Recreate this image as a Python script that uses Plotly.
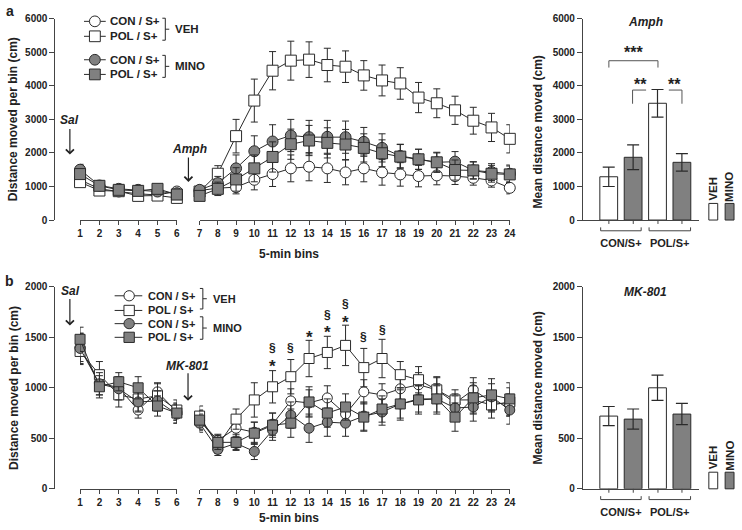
import plotly.graph_objects as go

W, H = 742, 530
def px(x): return x / W
def py(y): return 1 - y / H

bins = list(range(1, 25))

# ---------- Panel a (Amph) ----------
a_con_veh = [1200, 930, 850, 780, 750, 850, 880, 950, 980, 1200, 1370, 1540, 1590, 1540, 1420, 1540, 1420, 1360, 1310, 1330, 1310, 1260, 1180, 960]
a_pol_veh = [1130, 880, 860, 720, 730, 660, 850, 1380, 2500, 3560, 4450, 4750, 4780, 4620, 4570, 4310, 4160, 4070, 3650, 3480, 3270, 2960, 2760, 2420]
a_con_mino = [1500, 1030, 930, 900, 850, 800, 900, 1100, 1540, 2050, 2340, 2520, 2470, 2480, 2470, 2330, 2150, 1910, 1810, 1720, 1740, 1480, 1430, 1380]
a_pol_mino = [1370, 1020, 900, 870, 930, 760, 720, 930, 1210, 1540, 1880, 2260, 2370, 2300, 2250, 2150, 1990, 1890, 1810, 1720, 1490, 1480, 1380, 1360]
a_con_veh_err = [110, 80, 70, 70, 70, 80, 100, 150, 200, 300, 370, 400, 420, 420, 370, 400, 380, 350, 320, 280, 250, 220, 200, 180]
a_pol_veh_err = [130, 90, 80, 80, 70, 80, 120, 240, 500, 640, 570, 580, 530, 500, 470, 440, 460, 470, 450, 430, 420, 400, 420, 420]
a_con_mino_err = [160, 90, 90, 90, 90, 90, 100, 200, 400, 460, 500, 480, 500, 490, 480, 430, 420, 350, 300, 280, 300, 250, 250, 260]
a_pol_mino_err = [130, 90, 90, 90, 90, 90, 100, 200, 350, 400, 450, 450, 450, 450, 450, 420, 400, 360, 300, 300, 300, 260, 250, 250]

# ---------- Panel b (MK-801) ----------
b_con_veh = [1400, 1050, 1000, 780, 960, 760, 680, 480, 600, 560, 640, 870, 850, 900, 740, 960, 930, 990, 1030, 980, 850, 980, 860, 830]
b_pol_veh = [1360, 1130, 930, 890, 920, 780, 720, 430, 690, 880, 1010, 1110, 1290, 1350, 1420, 1200, 1290, 1130, 1080, 980, 880, 880, 830, 860]
b_con_mino = [1390, 1040, 990, 860, 870, 740, 650, 390, 450, 370, 580, 730, 600, 660, 650, 720, 760, 840, 890, 890, 800, 810, 910, 780]
b_pol_mino = [1480, 1010, 1060, 1000, 820, 750, 680, 460, 460, 550, 630, 650, 860, 750, 810, 710, 790, 840, 880, 890, 710, 900, 930, 890]
b_con_veh_err = [140, 120, 110, 80, 90, 80, 90, 60, 80, 100, 110, 120, 130, 120, 100, 120, 110, 120, 120, 120, 90, 120, 100, 110]
b_pol_veh_err = [130, 130, 120, 120, 120, 100, 100, 80, 100, 170, 160, 170, 180, 160, 200, 190, 190, 130, 130, 130, 100, 140, 130, 140]
b_con_mino_err = [150, 110, 110, 100, 100, 90, 90, 60, 60, 80, 100, 130, 140, 140, 130, 140, 130, 140, 130, 130, 120, 140, 130, 140]
b_pol_mino_err = [120, 110, 90, 110, 100, 100, 100, 70, 80, 110, 120, 140, 150, 140, 130, 140, 130, 160, 140, 150, 140, 150, 160, 160]

# significance marks in panel b (bin, value)
b_sect_bins = [11, 12, 14, 15, 16, 17]
b_sect_vals = [1394, 1394, 1716, 1830, 1507, 1571]
b_star_bins = [11, 13, 14, 15]
b_star_vals = [1249, 1539, 1588, 1691]

# ---------- Bar panels ----------
groups = ["CON/S+", "POL/S+"]
a_bar_veh = [1290, 3480]
a_bar_veh_err = [290, 410]
a_bar_mino = [1870, 1720]
a_bar_mino_err = [370, 260]
b_bar_veh = [720, 1000]
b_bar_veh_err = [95, 125]
b_bar_mino = [690, 740]
b_bar_mino_err = [100, 105]

series_names = ["CON / S+", "POL / S+", "CON / S+", "POL / S+"]
GRAY = "#808080"
DARK = "#2a2a2a"
AX = "#444444"
styles = [("circle", "white"), ("square", "white"), ("circle", GRAY), ("square", GRAY)]

fig = go.Figure()

def add_line_panel(values, errs, xa1, xa2, ya, msize):
    for (vals, err), (sym, col), nm in zip(zip(values, errs), styles, series_names):
        for xa, lo, hi in ((xa1, 0, 6), (xa2, 6, 24)):
            fig.add_trace(go.Scatter(
                x=bins[lo:hi], y=vals[lo:hi], xaxis=xa, yaxis=ya,
                mode="lines+markers", name=nm, showlegend=False, cliponaxis=False,
                line=dict(color=DARK, width=1),
                marker=dict(symbol=sym, size=msize, color=col, line=dict(color=DARK, width=1)),
                error_y=dict(type="data", array=err[lo:hi], visible=True, color=DARK, thickness=1, width=3.5),
            ))

add_line_panel([a_con_veh, a_pol_veh, a_con_mino, a_pol_mino],
               [a_con_veh_err, a_pol_veh_err, a_con_mino_err, a_pol_mino_err], "x", "x2", "y", 11)
add_line_panel([b_con_veh, b_pol_veh, b_con_mino, b_pol_mino],
               [b_con_veh_err, b_pol_veh_err, b_con_mino_err, b_pol_mino_err], "x3", "x4", "y2", 10)

def add_bars(veh, veh_err, mino, mino_err, xa, ya):
    for vals, err, col, nm in ((veh, veh_err, "white", "VEH"), (mino, mino_err, GRAY, "MINO")):
        fig.add_trace(go.Bar(
            x=groups, y=vals, xaxis=xa, yaxis=ya, name=nm, showlegend=False,
            marker=dict(color=col, line=dict(color=DARK, width=1)),
            error_y=dict(type="data", array=err, visible=True, color=DARK, thickness=1.2, width=6),
        ))

add_bars(a_bar_veh, a_bar_veh_err, a_bar_mino, a_bar_mino_err, "x5", "y3")
add_bars(b_bar_veh, b_bar_veh_err, b_bar_mino, b_bar_mino_err, "x6", "y4")

tickfont = dict(family="Liberation Sans, Arial", size=10, color="#222", weight="bold")

def xseg(domain, rng, anchor):
    return dict(domain=domain, range=rng, anchor=anchor, tickmode="linear", tick0=rng[0], dtick=1,
                showline=True, linecolor=AX, linewidth=1, ticks="outside", ticklen=4, tickcolor=AX,
                showgrid=False, zeroline=False, tickfont=tickfont)

def yax(domain, rng, dtick, anchor, position=None):
    d = dict(domain=domain, range=rng, dtick=dtick, anchor=anchor, showline=True, linecolor=AX, linewidth=1,
             ticks="outside", ticklen=5, tickcolor=AX, showgrid=False, zeroline=False, tickfont=tickfont)
    if position is not None:
        d["position"] = position
    return d

def xbar(domain, anchor):
    return dict(domain=domain, type="category", range=[-0.78, 1.61], anchor=anchor, showline=True,
                linecolor=AX, linewidth=1, ticks="", showgrid=False, zeroline=False,
                tickfont=dict(family="Liberation Sans, Arial", size=11, color="#222", weight="bold"),
                ticklabelstandoff=13)

ya_dom = [py(219), py(13)]
yb_dom = [py(494), py(287.3)]

fig.update_layout(
    width=W, height=H, margin=dict(l=0, r=0, t=0, b=0),
    paper_bgcolor="white", plot_bgcolor="white",
    font=dict(family="Liberation Sans, Arial", color="#222", weight="bold"),
    barmode="group", bargap=0, bargroupgap=0.27,
    showlegend=False,
    xaxis=xseg([px(78), px(176)], [1, 6], "y"),
    xaxis2=xseg([px(199), px(513)], [7, 24], "y"),
    xaxis3=xseg([px(78), px(176)], [1, 6], "y2"),
    xaxis4=xseg([px(199), px(513)], [7, 24], "y2"),
    yaxis=yax(ya_dom, [0, 6000], 1000, "free", px(52)),
    yaxis2=yax(yb_dom, [0, 2000], 500, "free", px(52)),
    xaxis5=xbar([px(587), px(705)], "y3"),
    xaxis6=xbar([px(587), px(705)], "y4"),
    yaxis3=yax(ya_dom, [0, 6000], 1000, "x5"),
    yaxis4=yax(yb_dom, [0, 2000], 500, "x6"),
)

ann = []
shapes = []
def text(x, y, s, size=11, italic=False, angle=0, xanchor="center", **kw):
    f = dict(family="Liberation Sans, Arial", size=size, color="#222", weight="bold")
    if italic:
        f["style"] = "italic"
    ann.append(dict(x=px(x), y=py(y), xref="paper", yref="paper", text=s, showarrow=False,
                    xanchor=xanchor, yanchor="middle", font=f, textangle=angle, **kw))

def line(x0, y0, x1, y1, w=1, color=AX):
    shapes.append(dict(type="line", xref="paper", yref="paper", x0=px(x0), y0=py(y0), x1=px(x1), y1=py(y1),
                       line=dict(color=color, width=w)))

def arrow(x, ytop, ybot):
    ann.append(dict(x=px(x), y=py(ybot), xref="paper", yref="paper", text="", showarrow=True,
                    ax=0, ay=-(ybot - ytop), arrowhead=4, arrowsize=1.3, arrowwidth=1.2, arrowcolor="#222"))

# panel letters
text(7, 5, "a", size=14)
text(7, 281, "b", size=14)

# axis titles
text(11, 116, "Distance moved per bin (cm)", size=12, angle=-90)
text(11, 391, "Distance moved per bin (cm)", size=12, angle=-90)
text(290, 254, "5-min bins", size=12)
text(290, 524, "5-min bins", size=12)
text(542, 129, "Mean distance moved (cm)", size=12, angle=-90)
text(542, 391, "Mean distance moved (cm)", size=12, angle=-90)

# injection labels
text(67, 117, "Sal", size=12, italic=True)
arrow(67.7, 125, 152)
text(189, 146, "Amph", size=12, italic=True)
arrow(187.7, 154, 180)
text(68, 292, "Sal", size=12, italic=True)
arrow(67.7, 299, 327)
text(187, 368, "MK-801", size=12, italic=True)
arrow(187.3, 375, 404)

# bar titles
text(650, 16, "Amph", size=12, italic=True)
text(650, 293, "MK-801", size=12, italic=True)

# custom legends for line panels
def legend(rows, x_l0, x_l1, x_m, x_t, br_x, groups_y, group_labels, msize, fsize):
    r = msize / 2
    for (sym, col), nm, y in zip(styles, series_names, rows):
        line(x_l0, y, x_l1, y, 1, DARK)
        shapes.append(dict(type="circle" if sym == "circle" else "rect", xref="paper", yref="paper",
                           x0=px(x_m - r), x1=px(x_m + r), y0=py(y + r), y1=py(y - r),
                           fillcolor=col, line=dict(color=DARK, width=1)))
        text(x_t, y, nm, size=fsize, xanchor="left")
    for (y0, y1), lab in zip(groups_y, group_labels):
        ym = (y0 + y1) / 2
        line(br_x - 3, y0, br_x, y0, 1, DARK)
        line(br_x, y0, br_x, y1, 1, DARK)
        line(br_x - 3, y1, br_x, y1, 1, DARK)
        line(br_x, ym, br_x + 4, ym, 1, DARK)
        text(br_x + 8, ym, lab, size=fsize, xanchor="left")

legend([15.7, 31, 55, 70], 82, 104, 93, 106, 164.3, [(12.5, 35), (50.5, 73)], ["VEH", "MINO"], 11, 11.5)
legend([296.5, 311.5, 325, 339], 113, 141, 127.7, 144.3, 202.3, [(289, 310), (318, 341)], ["VEH", "MINO"], 10.5, 11)

# significance marks panel b
for b, v in zip(b_sect_bins, b_sect_vals):
    ann.append(dict(x=b, y=v, xref="x4", yref="y2", text="§", showarrow=False,
                    font=dict(family="Liberation Sans, Arial", size=12, color="#222")))
for b, v in zip(b_star_bins, b_star_vals):
    ann.append(dict(x=b, y=v, xref="x4", yref="y2", text="*", showarrow=False, yshift=-4,
                    font=dict(family="Liberation Sans, Arial", size=17, color="#222", weight="bold")))

# significance brackets panel a bars
line(613.3, 63, 613.3, 56, 1, "#555")
line(613.3, 56, 663, 56, 1, "#555")
line(663, 56, 663, 63, 1, "#555")
text(638, 48, "***", size=16)
line(637.3, 100, 637.3, 86, 1, "#555")
line(637.3, 86, 651, 86, 1, "#555")
line(674, 86, 687.3, 86, 1, "#555")
line(687.3, 86, 687.3, 100, 1, "#555")
text(645, 80, "**", size=16)
text(680, 80, "**", size=16)

# group brackets & ticks under bar axes, bar legends
for yaxis_px in (219, 494):
    for cx in (613.3, 638, 663, 687.3):
        line(cx, yaxis_px, cx, yaxis_px + 4, 1, AX)
    for x0, x1 in ((605, 646), (654, 696)):
        line(x0, yaxis_px + 7.5, x0, yaxis_px + 11, 1, AX)
        line(x0, yaxis_px + 11, x1, yaxis_px + 11, 1, AX)
        line(x1, yaxis_px + 11, x1, yaxis_px + 7.5, 1, AX)
    text(718.5, yaxis_px - 32, "VEH", size=11.5, angle=-90)
    text(735, yaxis_px - 34, "MINO", size=11.5, angle=-90)
    shapes.append(dict(type="rect", xref="paper", yref="paper", x0=px(714.5), x1=px(723.5),
                       y0=py(yaxis_px), y1=py(yaxis_px - 17), fillcolor="white", line=dict(color=DARK, width=1)))
    shapes.append(dict(type="rect", xref="paper", yref="paper", x0=px(731), x1=px(740),
                       y0=py(yaxis_px), y1=py(yaxis_px - 17), fillcolor=GRAY, line=dict(color=DARK, width=1)))

fig.update_layout(annotations=ann, shapes=shapes)
fig.write_html("out.html", config={"displayModeBar": False},
               post_script="document.body.style.margin='0';document.body.style.overflow='hidden';")
